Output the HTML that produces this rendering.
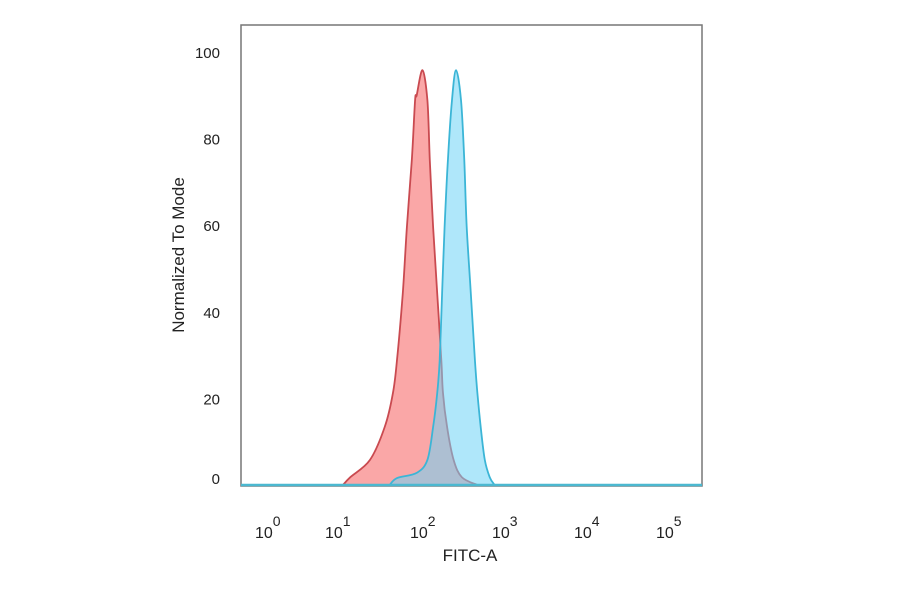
<!DOCTYPE html>
<html><head><meta charset="utf-8"><style>
body{margin:0;background:#fff;}
svg{display:block;font-family:"Liberation Sans",sans-serif;}
</style></head><body>
<svg id="c" width="900" height="594">
<rect x="241" y="25" width="461" height="461" fill="none" stroke="#777" stroke-width="1.5"/>
<g id="marks"></g>
<g id="axes"></g>
<text x="470" y="561" font-size="17" fill="#222" text-anchor="middle">FITC-A</text>
<text transform="translate(184,255) rotate(-90)" font-size="17" fill="#222" text-anchor="middle">Normalized To Mode</text>
</svg>
<script>
const yTicks=[0,20,40,60,80,100];
const xDecades=[0,1,2,3,4,5];
const redLog=[1.06,1.15,1.39,1.57,1.67,1.72,1.79,1.84,1.90,1.94,1.96,2.03,2.09,2.12,2.16,2.21,2.26,2.28,2.33,2.41,2.51,2.70];
const redPct=[0,1.8,5.8,13.4,21.2,28.9,44.3,59.6,75,88.9,90,95.8,88.9,75,59.6,44.3,28.9,21.2,13.4,5.8,1.8,0];
const blueLog=[1.63,1.72,1.96,2.09,2.16,2.21,2.24,2.27,2.30,2.34,2.39,2.44,2.50,2.54,2.57,2.62,2.67,2.70,2.74,2.79,2.85,2.91];
const bluePct=[0,1.6,2.8,5.8,13.4,21.2,28.9,44.3,59.6,75,88.9,95.8,88.9,75,59.6,44.3,28.9,21.2,13.4,5.8,1.8,0];
const NS='http://www.w3.org/2000/svg';
function X(l){return 420+82*(l-2);}
function Y(v){return 485-4.33*v;}
const marks=document.getElementById('marks'),axes=document.getElementById('axes');
function mk(t,a,p){const e=document.createElementNS(NS,t);for(const k in a)e.setAttribute(k,a[k]);p.appendChild(e);return e;}
function area(L,P,fill,stroke,name){
  const pts=L.map((l,i)=>[X(l),Y(P[i])]);
  let d='M'+pts[0][0].toFixed(1)+','+pts[0][1].toFixed(1);
  for(let i=0;i<pts.length-1;i++){
    const p0=pts[Math.max(0,i-1)],p1=pts[i],p2=pts[i+1],p3=pts[Math.min(pts.length-1,i+2)];
    const c1=[p1[0]+(p2[0]-p0[0])/6,p1[1]+(p2[1]-p0[1])/6];
    const c2=[p2[0]-(p3[0]-p1[0])/6,p2[1]-(p3[1]-p1[1])/6];
    d+=' C'+c1[0].toFixed(1)+','+c1[1].toFixed(1)+' '+c2[0].toFixed(1)+','+c2[1].toFixed(1)+' '+p2[0].toFixed(1)+','+p2[1].toFixed(1);
  }
  d+='Z';
  const e=mk('path',{d:d,fill:fill,stroke:stroke,'stroke-width':1.8,'stroke-linejoin':'round'},marks);
  
  
}
area(redLog,redPct,'rgba(248,130,130,0.7)','#c94a50','red-histogram');
area(blueLog,bluePct,'rgba(110,212,245,0.55)','#3bb5d6','blue-histogram');
const bl=mk('line',{x1:241,x2:702,y1:Y(0),y2:Y(0),stroke:'#4bb8d0','stroke-width':2.5},marks);


yTicks.forEach(v=>{
  const t=mk('text',{x:220,y:Y(v)+(v===0?-1:6),'font-size':15,fill:'#222','text-anchor':'end'},axes);
  t.textContent=v;
  
  
});
xDecades.forEach(d=>{
  const cx=(d===0?265:X(d)+(d===1?-3:0));
  const t=mk('text',{x:cx-10,y:538,'font-size':16,fill:'#222'},axes);
  t.textContent='10';
  const s=mk('tspan',{dy:-12,'font-size':14},t);
  s.textContent=d;
  
  
});
</script>
</body></html>
